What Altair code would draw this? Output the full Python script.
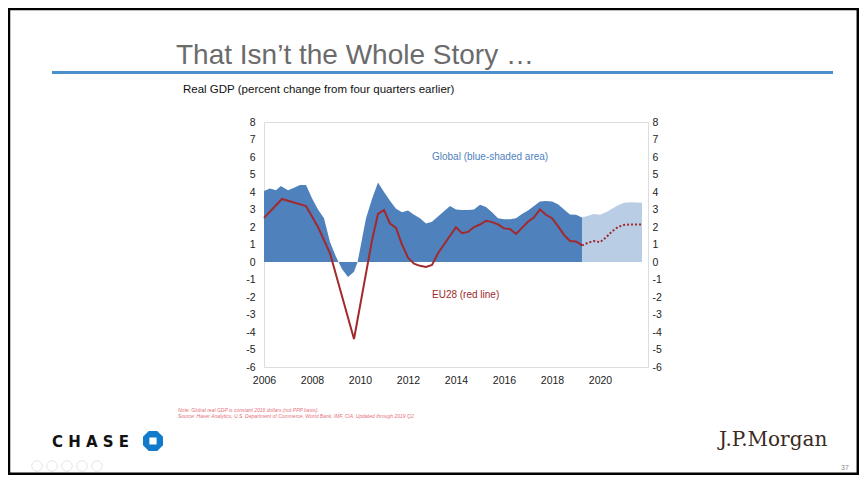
import altair as alt
import pandas as pd

# ---------------- data ----------------
global_years = [2006.0, 2006.25, 2006.5, 2006.7, 2007.0, 2007.25, 2007.5, 2007.75, 2008.0, 2008.25,
                2008.5, 2008.75, 2009.0, 2009.25, 2009.5, 2009.75, 2009.9, 2010.25, 2010.5, 2010.75,
                2011.0, 2011.25, 2011.5, 2011.75, 2012.0, 2012.25, 2012.5, 2012.75, 2013.0, 2013.25,
                2013.5, 2013.75, 2014.0, 2014.25, 2014.5, 2014.75, 2015.0, 2015.25, 2015.5, 2015.75,
                2016.0, 2016.25, 2016.5, 2016.75, 2017.0, 2017.25, 2017.5, 2017.75, 2018.0, 2018.25,
                2018.5, 2018.75, 2019.0, 2019.25]
global_values = [4.06, 4.2, 4.1, 4.35, 4.1, 4.25, 4.4, 4.4, 3.65, 3.0,
                 2.5, 1.15, 0.3, -0.4, -0.85, -0.55, 0.0, 2.5, 3.6, 4.55,
                 4.0, 3.5, 3.05, 2.85, 2.95, 2.7, 2.5, 2.2, 2.3, 2.6,
                 2.9, 3.2, 3.0, 2.97, 2.97, 3.0, 3.27, 3.15, 2.85, 2.5,
                 2.45, 2.45, 2.5, 2.75, 2.95, 3.2, 3.46, 3.48, 3.46, 3.3,
                 3.0, 2.72, 2.7, 2.55]

global_fc_years = [2019.25, 2019.5, 2019.75, 2020.0, 2020.25, 2020.5, 2020.75, 2021.0, 2021.25, 2021.5, 2021.75]
global_fc_values = [2.55, 2.65, 2.75, 2.7, 2.85, 3.05, 3.25, 3.38, 3.42, 3.4, 3.38]

eu_years = [2006.0, 2006.75, 2007.0, 2007.75, 2008.25, 2008.75, 2009.75, 2010.5, 2010.75, 2011.0,
            2011.25, 2011.5, 2011.75, 2012.0, 2012.25, 2012.5, 2012.75, 2013.0, 2013.25, 2013.5,
            2013.75, 2014.0, 2014.25, 2014.5, 2014.75, 2015.0, 2015.25, 2015.5, 2015.75, 2016.0,
            2016.25, 2016.5, 2016.75, 2017.0, 2017.25, 2017.5, 2017.75, 2018.0, 2018.25, 2018.5,
            2018.75, 2019.0, 2019.25]
eu_values = [2.52, 3.6, 3.5, 3.2, 2.0, 0.5, -4.4, 1.23, 2.75, 2.97,
             2.2, 1.95, 1.0, 0.25, -0.1, -0.22, -0.28, -0.17, 0.5, 1.0,
             1.5, 1.98, 1.65, 1.72, 2.0, 2.14, 2.36, 2.28, 2.15, 1.92,
             1.89, 1.6, 1.95, 2.3, 2.55, 3.0, 2.7, 2.5, 2.05, 1.55,
             1.2, 1.17, 0.95]

eu_fc_years = [2019.25, 2019.5, 2019.75, 2020.0, 2020.25, 2020.5, 2020.75, 2021.0, 2021.25, 2021.5, 2021.75]
eu_fc_values = [0.95, 1.1, 1.2, 1.13, 1.4, 1.75, 2.0, 2.12, 2.15, 2.15, 2.15]

x_tick_values = [2006, 2008, 2010, 2012, 2014, 2016, 2018, 2020]
y_tick_values = [-6, -5, -4, -3, -2, -1, 0, 1, 2, 3, 4, 5, 6, 7, 8]

ann_labels = ["Global (blue-shaded area)", "EU28 (red line)"]
ann_x = [2013.0, 2013.0]
ann_y = [6.0, -1.9]

title_text = "That Isn\u2019t the Whole Story \u2026"
subtitle_text = "Real GDP (percent change from four quarters earlier)"
note_lines = ["Note: Global real GDP is constant 2016 dollars (not PPP basis).",
              "Source:  Haver Analytics, U.S. Department of Commerce, World Bank, IMF, CIA. Updated through 2019 Q2."]
page_number = "37"

# ---------------- styles ----------------
BLUE = "#4F81BD"
LIGHT = "#B9CDE5"
RED = "#A2292C"
AXIS_FONT = "Liberation Sans"
W, H = 384, 245
PAD_L, PAD_T = 256, 114
TOTAL_W, TOTAL_H = 851, 467

g_df = pd.DataFrame({"year": global_years, "v": global_values})
gf_df = pd.DataFrame({"year": global_fc_years, "v": global_fc_values})
e_df = pd.DataFrame({"year": eu_years, "v": eu_values})
ef_df = pd.DataFrame({"year": eu_fc_years, "v": eu_fc_values})
ann_df = pd.DataFrame({"year": ann_x, "v": ann_y, "label": ann_labels})
one = pd.DataFrame({"k": [0]})

x_scale = alt.Scale(domain=[2006, 2022], nice=False, zero=False)
y_scale = alt.Scale(domain=[-6, 8], nice=False, zero=False)

x_axis = alt.Axis(values=x_tick_values, format="d", domain=False, ticks=False, grid=False,
                  labelPadding=8, labelFont=AXIS_FONT, labelFontSize=10.5, labelColor="#222",
                  labelFlush=False, title=None)

HYPHEN = "datum.value < 0 ? '-' + abs(datum.value) : '' + datum.value"

def y_axis(orient, pad):
    return alt.Axis(values=y_tick_values, orient=orient, domain=False, ticks=False,
                    grid=False, labelPadding=pad, labelFont=AXIS_FONT, labelFontSize=10.5,
                    labelColor="#222", labelFlush=False, labelExpr=HYPHEN, title=None)

X = alt.X("year:Q", scale=x_scale, axis=x_axis)

area_actual = alt.Chart(g_df).mark_area(color=BLUE, opacity=1, interpolate="linear").encode(
    x=X, y=alt.Y("v:Q", scale=y_scale, axis=y_axis("left", 9)), y2=alt.datum(0))
area_fc = alt.Chart(gf_df).mark_area(color=LIGHT, opacity=1, interpolate="linear").encode(
    x=X, y=alt.Y("v:Q", scale=y_scale, axis=None), y2=alt.datum(0))
line_actual = alt.Chart(e_df).mark_line(color=RED, strokeWidth=2).encode(
    x=X, y=alt.Y("v:Q", scale=y_scale, axis=y_axis("right", 4)))
line_fc = alt.Chart(ef_df).mark_line(color=RED, strokeWidth=2, strokeDash=[2, 2]).encode(
    x=X, y=alt.Y("v:Q", scale=y_scale, axis=None))
ann = alt.Chart(ann_df).mark_text(align="left", baseline="middle", font=AXIS_FONT, fontSize=10).encode(
    x=X, y=alt.Y("v:Q", scale=y_scale, axis=None), text="label:N",
    color=alt.Color("label:N", scale=alt.Scale(domain=ann_labels, range=[BLUE, RED]), legend=None))

# ---------------- slide decorations (pixel positions relative to plot origin) ----------------
def rule(x1, x2, y1, y2, color, w):
    return alt.Chart(one).mark_rule(color=color, strokeWidth=w).encode(
        x=alt.value(x1), x2=alt.value(x2), y=alt.value(y1), y2=alt.value(y2))

def text(t, x, y, **kw):
    return alt.Chart(one).mark_text(**kw).encode(x=alt.value(x), y=alt.value(y), text=alt.value(t))

L = -PAD_L
R = TOTAL_W - PAD_L
T = -PAD_T
B = TOTAL_H - PAD_T

frame = [
    rule(L, R, T + 1, T + 1, "black", 2.5),
    rule(L + 1, L + 1, T, B, "black", 2.5),
    rule(R - 1.2, R - 1.2, T, B, "black", 2.5),
    rule(L, R, B - 1.2, B - 1.2, "black", 2.5),
]
title_rule = rule(-212, 569, -49.5, -49.5, "#4A90CD", 3)
title = text(title_text, -88, -58, align="left", baseline="alphabetic", font="Liberation Sans",
             fontSize=28, color="#6b6b6b")
subtitle = text(subtitle_text, -81, -29, align="left", baseline="alphabetic", font="Liberation Sans",
                fontSize=11.5, color="#111")
note1 = text(note_lines[0], -86, 288, align="left", baseline="middle", font="Liberation Sans",
             fontSize=5, fontStyle="italic", color="#E5707A")
note2 = text(note_lines[1], -86, 294, align="left", baseline="middle", font="Liberation Sans",
             fontSize=5, fontStyle="italic", color="#E5707A")
chase = text("C H A S E", -212, 325, align="left", baseline="alphabetic", font="DejaVu Sans",
             fontWeight="bold", fontSize=15, color="#111")
chase_logo_path = ("M -0.42 -1 L 0.42 -1 L 1 -0.42 L 1 0.42 L 0.42 1 L -0.42 1 L -1 0.42 L -1 -0.42 Z "
                   "M -0.36 -0.36 L -0.36 0.36 L 0.36 0.36 L 0.36 -0.36 Z")
chase_logo = alt.Chart(one).mark_point(shape=chase_logo_path, filled=True, color="#117ACA", opacity=1,
                                       size=400).encode(x=alt.value(-111), y=alt.value(319))
jpm = text("J.P.Morgan", 455, 324, align="left", baseline="alphabetic", font="DejaVu Serif",
           fontSize=20, color="#3a2a24")
page = text(page_number, 581, 346, align="center", baseline="middle", font="Liberation Sans",
            fontSize=7, color="#888")
circles = [alt.Chart(one).mark_point(shape="circle", filled=False, color="#e6e6e6", size=110,
                                     strokeWidth=1, opacity=1).encode(x=alt.value(cx), y=alt.value(344))
           for cx in (-227, -212, -197, -182, -167)]

chart = alt.layer(
    area_actual, area_fc, line_actual, line_fc, ann,
    *frame, title_rule, title, subtitle, note1, note2, chase, chase_logo, jpm, page, *circles
).resolve_axis(y="independent").properties(
    width=W, height=H,
    autosize=alt.AutoSizeParams(type="none"),
    padding={"left": PAD_L, "top": PAD_T, "right": TOTAL_W - PAD_L - W, "bottom": TOTAL_H - PAD_T - H},
).configure_view(stroke=None).configure(background="white")

chart.save("out.html", embed_options={"renderer": "svg", "actions": False})
